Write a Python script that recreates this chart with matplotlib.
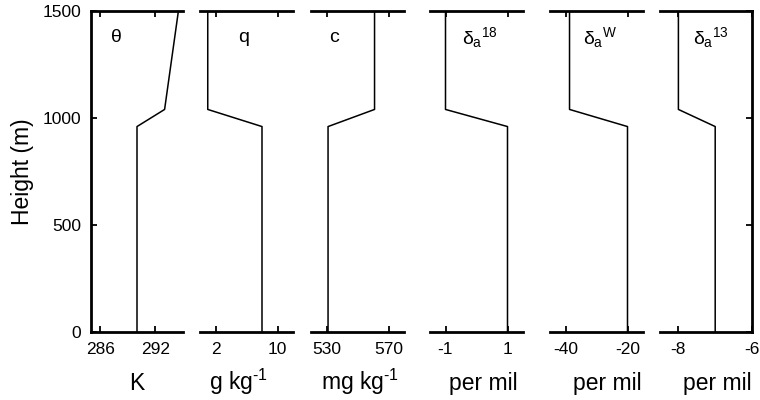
import matplotlib
matplotlib.use("Agg")
import matplotlib.pyplot as plt

plt.rcParams['font.family'] = ['Liberation Sans', 'DejaVu Sans']
plt.rcParams['mathtext.fontset'] = 'custom'
plt.rcParams['mathtext.rm'] = 'Liberation Sans'
plt.rcParams['mathtext.it'] = 'Liberation Sans'
plt.rcParams['mathtext.bf'] = 'Liberation Sans:bold'

# ---- data ----
heights = [0, 960, 1040, 1500]
theta = [290, 290, 293, 294.5]
q = [8, 8, 1, 1]
c = [531, 531, 561, 561]
d18 = [1, 1, -1, -1]
dW = [-20, -20, -38.7, -38.7]
d13 = [-7, -7, -8, -8]

series = [theta, q, c, d18, dW, d13]
names = [r'$\theta$', 'q', 'c', r'$\delta_a{}^{18}$', r'$\delta_a{}^{W}$', r'$\delta_a{}^{13}$']
units = ['K', r'g kg$^{\text{-1}}$', r'mg kg$^{\text{-1}}$', 'per mil', 'per mil', 'per mil']
xlims = [(285, 295), (0, 12), (520, 580), (-1.5, 1.5), (-45, -15), (-8.5, -6)]
xticks = [[286, 292], [2, 10], [530, 570], [-1, 1], [-40, -20], [-8, -6]]
yticks = [0, 500, 1000, 1500]

# ---- layout (pixels) ----
W, H = 760, 400
lefts = [91, 200, 311, 430, 550, 660]
rights = [183, 293, 404, 523, 643, 752]
top_px, bot_px = 11, 332
name_x = [0.27, 0.47, 0.25, 0.34, 0.35, 0.36]
name_ha = ['center', 'center', 'center', 'left', 'left', 'left']
unit_x = [137, 238, 360, 483, 607, 717]

fig = plt.figure(figsize=(W / 100, H / 100), dpi=100)

for i in range(6):
    ax = fig.add_axes([lefts[i] / W, (H - bot_px) / H,
                       (rights[i] - lefts[i]) / W, (bot_px - top_px) / H])
    ax.plot(series[i], heights, color='black', lw=1.1)
    ax.set_xlim(*xlims[i])
    ax.set_ylim(0, 1500)
    ax.set_xticks(xticks[i])
    ax.set_xticklabels([str(t) for t in xticks[i]], fontsize=12.5)
    ax.set_yticks(yticks)
    for s in ['top', 'bottom', 'left', 'right']:
        ax.spines[s].set_linewidth(2)
    ax.spines['left'].set_visible(i == 0)
    ax.spines['right'].set_visible(i == 5)
    ax.tick_params(axis='x', top=True, bottom=True, direction='in',
                   length=4, width=1.3, pad=7)
    if i == 0:
        ax.tick_params(axis='y', left=True, right=False, direction='in',
                       length=4, width=1.3, pad=7, labelsize=12.5)
        ax.set_ylabel('Height (m)', fontsize=16.5, labelpad=6)
    elif i == 5:
        ax.tick_params(axis='y', left=False, right=True, labelleft=False,
                       direction='in', length=4, width=1.3)
    else:
        ax.tick_params(axis='y', left=False, right=False, labelleft=False)
    ax.text(name_x[i], 0.918, names[i], transform=ax.transAxes,
            fontsize=14, ha=name_ha[i], va='center')
    fig.text(unit_x[i] / W, 1 - 390 / H, units[i], fontsize=16.5,
             ha='center', va='baseline')

fig.savefig('out.png', dpi=100)
